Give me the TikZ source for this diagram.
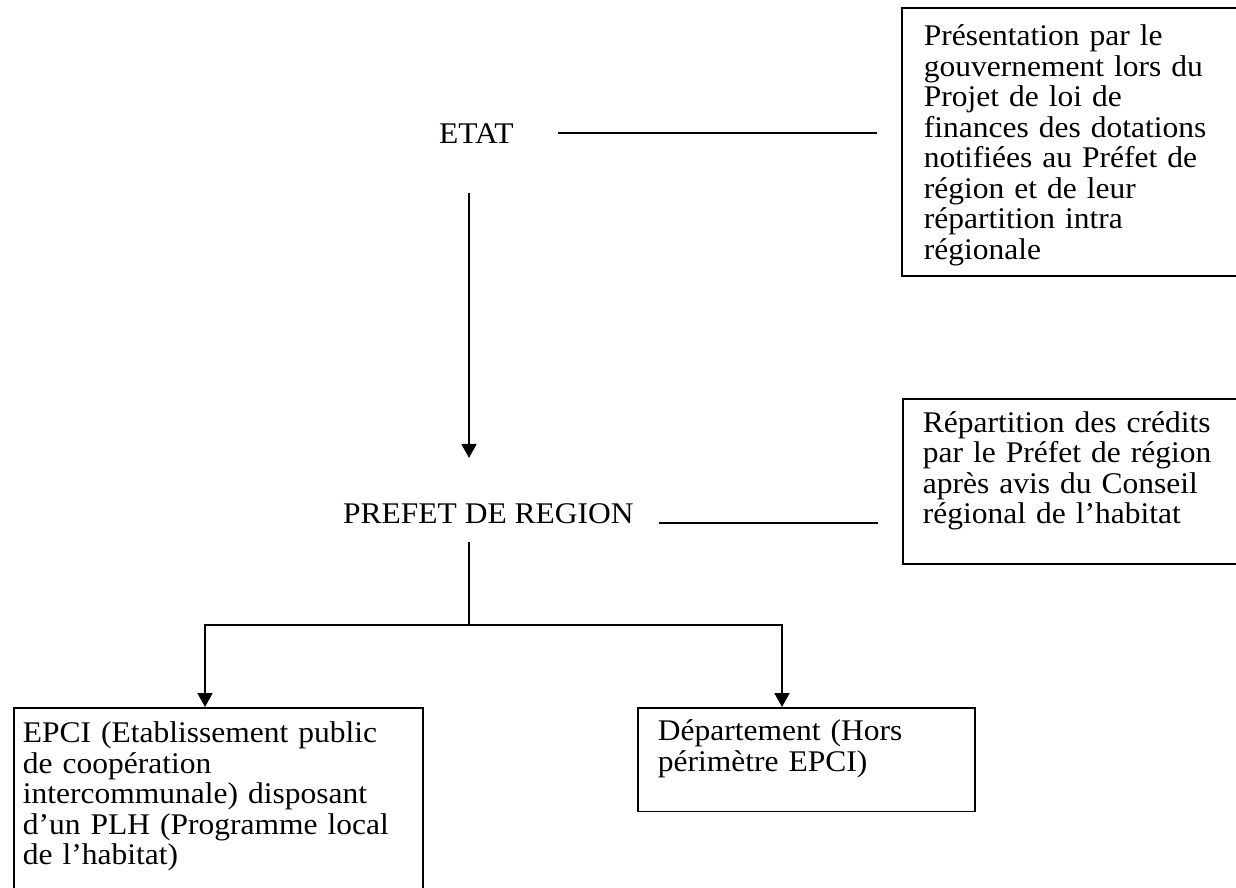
\documentclass[tikz,border=0pt]{standalone}
\usepackage{fontspec}
\setmainfont{Liberation Serif}[FakeStretch=1.05]
\usetikzlibrary{arrows.meta,calc}
\begin{document}
\begin{tikzpicture}[x=1pt,y=-1pt,
  lbl/.style={inner sep=0pt, font=\fontsize{30}{30.5}\selectfont},
  boxnode/.style={draw, line width=1.9pt, anchor=north west, align=left,
    inner ysep=0pt, font=\fontsize{30}{30.5}\selectfont},
  conn/.style={line width=1.8pt},
  arr/.style={line width=1.8pt, -{Triangle[width=15pt,length=14pt]}}]
\useasboundingbox (0,0) rectangle (1236,888);

% labels
\node[lbl, anchor=base west] (etat) at (439,143) {ETAT};
\node[lbl, anchor=base west] (prefet) at (343,523) {PREFET DE REGION};

% boxes
\node[boxnode, inner xsep=22pt, text width=315pt] (box1) at (901,7)
 {\rule{0pt}{38pt}Présentation par le\\
  gouvernement lors du\\
  Projet de loi de\\
  finances des dotations\\
  notifiées au Préfet de\\
  région et de leur\\
  répartition intra\\
  régionale\rule[-16.5pt]{0pt}{16.5pt}};

\node[boxnode, inner xsep=20pt, text width=314pt] (box2) at (902,398)
 {\rule{0pt}{33.5pt}Répartition des crédits\\
  par le Préfet de région\\
  après avis du Conseil\\
  régional de l’habitat\rule[-40pt]{0pt}{40pt}};

\node[boxnode, inner xsep=9pt, text width=391pt] (epci) at (13,707)
 {\rule{0pt}{35pt}EPCI (Etablissement public\\
  de coopération\\
  intercommunale) disposant\\
  d’un PLH (Programme local\\
  de l’habitat)\rule[-40pt]{0pt}{40pt}};

\node[boxnode, inner xsep=20pt, text width=297pt] (dept) at (637,707)
 {\rule{0pt}{33pt}Département (Hors\\
  périmètre EPCI)\rule[-40pt]{0pt}{40pt}};

% junction points
\coordinate (spine) at (469,625);
\coordinate (jL) at (205,625);
\coordinate (jR) at (782,625);

% connectors
\draw[conn] ($(etat.east)+(44,0)$) -- ($(etat.east -| box1.west)+(-24,0)$);
\draw[conn] ($(prefet.base east)+(25,0)$) -- ($(prefet.base east -| box2.west)+(-24,0)$);
\draw[arr] ($(etat.south -| spine)+(0,50)$) -- ($(prefet.north -| spine)+(0,-45)$);
\draw[conn] ($(prefet.south -| spine)+(0,19)$) -- (spine);
\draw[arr] (spine) -| (jL |- epci.north);
\draw[arr] (spine) -| (jR |- dept.north);
\end{tikzpicture}
\end{document}
